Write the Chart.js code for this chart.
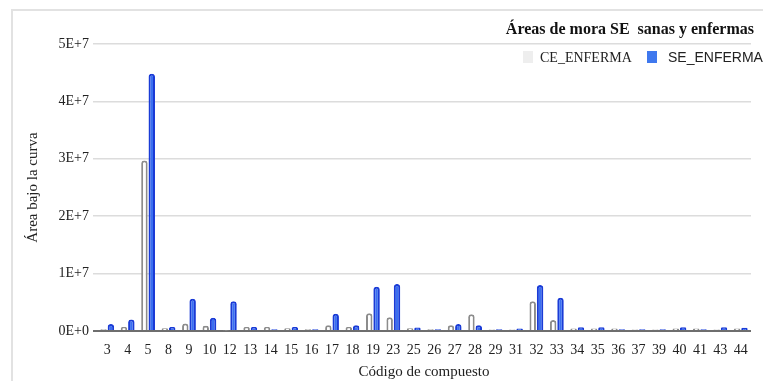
<!DOCTYPE html>
<html>
<head>
<meta charset="utf-8">
<script src="https://cdn.jsdelivr.net/npm/chart.js@4"></script>
<style>
  html, body { margin: 0; padding: 0; background: #fff; overflow: hidden; }
  #wrap { position: relative; width: 763px; height: 381px; }
  #frame { position: absolute; left: 11px; top: 9px; width: 800px; height: 400px;
           border-left: 2px solid #e2e2e2; border-top: 2px solid #e2e2e2; }
  canvas { position: absolute; left: 0; top: 0; }
</style>
</head>
<body>
<div id="wrap">
  <div id="frame"></div>
  <canvas id="c" width="763" height="381"></canvas>
</div>
<script>
const categories = ['3','4','5','8','9','10','12','13','14','15','16','17','18','19','23','25','26','27','28','29','31','32','33','34','35','36','37','39','40','41','43','44'];
const ceEnferma = [0.3e6,0.7e6,29.7e6,0.5e6,1.3e6,0.9e6,0.1e6,0.7e6,0.7e6,0.5e6,0.3e6,1.0e6,0.7e6,3.1e6,2.4e6,0.5e6,0.3e6,1.0e6,2.9e6,0.25e6,0.25e6,5.2e6,1.9e6,0.45e6,0.45e6,0.45e6,0.25e6,0.25e6,0.45e6,0.45e6,0.25e6,0.45e6];
const seEnferma = [1.2e6,2.0e6,44.8e6,0.7e6,5.6e6,2.3e6,5.2e6,0.7e6,0.3e6,0.7e6,0.3e6,3.0e6,1.0e6,7.7e6,8.2e6,0.6e6,0.3e6,1.2e6,1.0e6,0.3e6,0.45e6,8.0e6,5.8e6,0.65e6,0.65e6,0.3e6,0.3e6,0.3e6,0.65e6,0.3e6,0.65e6,0.55e6];
const yTicks = [0, 1e7, 2e7, 3e7, 4e7, 5e7];
const chartTitle = 'Áreas de mora SE  sanas y enfermas';
const seriesNames = ['CE_ENFERMA', 'SE_ENFERMA'];

const SERIF = '"Liberation Serif", "Times New Roman", serif';
const SANS = '"Liberation Sans", Arial, sans-serif';

const headerPlugin = {
  id: 'header',
  afterDraw(chart) {
    const ctx = chart.ctx;
    ctx.save();
    ctx.fillStyle = '#111';
    ctx.font = 'bold 16px ' + SERIF;
    ctx.textAlign = 'right';
    ctx.textBaseline = 'middle';
    ctx.fillText(chartTitle, 754, 30);
    const ds = chart.data.datasets;
    ctx.textAlign = 'left';
    ctx.font = '14px ' + SERIF;
    ctx.fillStyle = '#eeeeee';
    ctx.fillRect(523, 51, 10, 12);
    ctx.fillStyle = '#222';
    ctx.fillText(ds[0].label, 540, 58);
    ctx.fillStyle = '#3f78ee';
    ctx.fillRect(647, 51, 10, 12);
    ctx.font = '14px ' + SANS;
    ctx.fillStyle = '#222';
    ctx.fillText(ds[1].label, 668, 58);
    ctx.restore();
  }
};

new Chart(document.getElementById('c'), {
  type: 'bar',
  data: {
    labels: categories,
    datasets: [
      { label: seriesNames[0], data: ceEnferma, backgroundColor: '#ffffff', borderColor: '#8c8c8c',
        borderWidth: 2, borderRadius: 3, borderSkipped: 'bottom' },
      { label: seriesNames[1], data: seEnferma, backgroundColor: '#3b6ff0', borderColor: '#1a3bd6',
        borderWidth: 2, borderRadius: 3, borderSkipped: 'bottom' }
    ]
  },
  options: {
    responsive: false,
    animation: false,
    events: [],
    layout: { padding: { top: 44, right: 12, left: 24, bottom: 0 } },
    datasets: { bar: { categoryPercentage: 0.72, barPercentage: 0.88 } },
    plugins: { legend: { display: false }, title: { display: false }, tooltip: { enabled: false } },
    scales: {
      y: {
        min: 0, max: 5e7,
        afterBuildTicks(scale) { scale.ticks = yTicks.map(v => ({ value: v })); },
        afterFit(scale) { scale.width = 73; },
        ticks: {
          color: '#222', padding: 4,
          font: { family: SERIF, size: 14 },
          callback: v => v === 0 ? '0E+0' : (v / 1e7) + 'E+7'
        },
        grid: {
          color: ctx => ctx.tick && ctx.tick.value === 0 ? '#6e6e6e' : '#dcdcdc',
          lineWidth: ctx => ctx.tick && ctx.tick.value === 0 ? 2 : 1.5,
          tickLength: 4, drawTicks: true
        },
        border: { display: false },
        title: { display: true, text: 'Área bajo la curva', color: '#222',
                 font: { family: SERIF, size: 15 }, padding: { top: 0, bottom: 0 } }
      },
      x: {
        afterFit(scale) { scale.height = 50; },
        grid: { display: false },
        border: { display: false },
        ticks: { color: '#222', font: { family: SERIF, size: 14 }, padding: 3, maxRotation: 0, autoSkip: false },
        title: { display: true, text: 'Código de compuesto', color: '#222',
                 font: { family: SERIF, size: 15 }, padding: { top: 2, bottom: 0 } }
      }
    }
  },
  plugins: [headerPlugin]
});
</script>
</body>
</html>
